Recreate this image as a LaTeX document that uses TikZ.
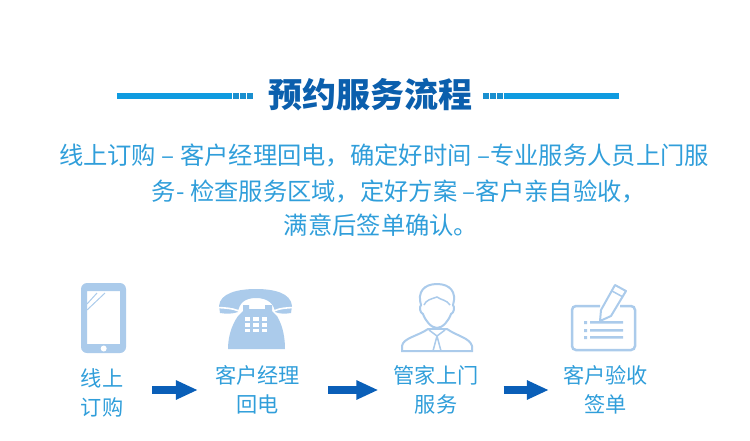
\documentclass[tikz,border=0pt]{standalone}
\usepackage{fontspec}
\setmainfont{Noto Sans CJK SC}
\usetikzlibrary{arrows.meta}
\definecolor{titleblue}{HTML}{0B5FAD}
\definecolor{arrowblue}{HTML}{0A5FB8}
\definecolor{ruleblue}{HTML}{0F9BE0}
\definecolor{squareblue}{HTML}{1A8FCF}
\definecolor{textblue}{HTML}{309EDA}
\definecolor{iconblue}{HTML}{ABCBEB}
\tikzset{
  x=1pt,y=-1pt,
  parline/.style={text=textblue,font=\fontsize{24.3}{29}\selectfont,inner sep=0pt},
  steplabel/.style={text=textblue,font=\fontsize{21.2}{29}\selectfont,align=center,inner sep=0pt},
  flowarrow/.style={draw=arrowblue,line width=8pt,-{Triangle[length=22pt,width=18pt]}},
  rulebar/.style={fill=ruleblue},
  rulesquare/.style={fill=squareblue}
}
\begin{document}
\begin{tikzpicture}
\useasboundingbox (0,0) rectangle (750,440);
% title
\node[text=titleblue,font=\fontsize{34}{40}\selectfont\bfseries,inner sep=0pt] (title) at (370.5,95) {预约服务流程};
\fill[rulebar] (117,93) rectangle (232,99);
\foreach \xa in {233,240,247}
  \fill[rulesquare] (\xa,93) rectangle +(6,6);
\foreach \xa in {483,490,497}
  \fill[rulesquare] (\xa,93) rectangle +(6,6);
\fill[rulebar] (504,93) rectangle (619,99);
% text
\node[parline] (para1) at (384,155) {线上订购 – 客户经理回电，确定好时间 –专业服务人员上门服};
\node[parline] (para2) at (399,191) {务- 检查服务区域，定好方案 –客户亲自验收，};
\node[parline] (para3) at (381,225) {满意后签单确认。};
% phone
\fill[iconblue,rounded corners=6pt,even odd rule] (81,283) rectangle (126,353) (87,291) [sharp corners] rectangle (120,344);
\fill[white] (103.7,348.5) circle (3);
\draw[iconblue,line width=1pt] (87,304) -- (97,293) (87,310) -- (105,293);
% telephone
\fill[iconblue] (219,306) .. controls (220,293) and (238,289) .. (256,289) .. controls (274,289) and (291,293) .. (292,306) -- (291,313) .. controls (285,314) and (280,314) .. (275,312) .. controls (274,304) and (268,298) .. (256,298) .. controls (244,298) and (239,304) .. (238,312) .. controls (233,314) and (226,314) .. (220,313) -- cycle;
\draw[white,line width=1.6pt] (218,307.5) .. controls (225,308) and (232,308) .. (239,311) (293,307.5) .. controls (286,308) and (280,308) .. (274,311);
\fill[iconblue] (243,305) -- (249,305) -- (249,309) -- (265,309) -- (265,305) -- (272,305) -- (272,311) -- (277,316) .. controls (283,326) and (285,338) .. (285,349) -- (228,349) .. controls (228,338) and (231,326) .. (238,316) -- (243,311) -- cycle;
\foreach \col in {0,1,2}
  \foreach \row in {0,1,2}
    \fill[white] (245+\col*8.4,317+\row*5.8) rectangle +(5.4,3.8);
% person
\draw[iconblue,line width=2pt,fill=white] (402,351) -- (402,346) .. controls (403,338) and (418,336) .. (428,329) -- (447,329) .. controls (457,336) and (470,338) .. (472,346) -- (472,351) -- cycle;
\draw[iconblue,line width=2pt,fill=white] (421,305) .. controls (417,292) and (424,284) .. (437,284) .. controls (450,284) and (457,292) .. (453,305) .. controls (455,307) and (454,313) .. (451,314) .. controls (449,320) and (443,328) .. (437,328) .. controls (431,328) and (425,320) .. (423,314) .. controls (420,313) and (419,307) .. (421,305) -- cycle;
\draw[iconblue,line width=1.5pt] (424,305) .. controls (426,300) and (431,299) .. (437,297) .. controls (441,300) and (447,300) .. (450,305);
\draw[iconblue,line width=1.5pt,fill=white] (429,330) -- (437,336) -- (445,330);
\draw[iconblue,line width=1.5pt] (437,336) -- (433,351) (437,336) -- (441,351);
% card
\draw[iconblue,line width=2.5pt,rounded corners=4pt] (620,306) -- (635,306) -- (635,350) -- (572,350) -- (572,306) -- (600,306);
\fill[iconblue] (590,321) rectangle (623,323.5) (590,329) rectangle (623,331.5) (590,336) rectangle (623,338.5);
\fill[iconblue] (584,321) rectangle (587,324) (584,329) rectangle (587,332) (584,336) rectangle (587,339);
\draw[iconblue,line width=2pt,fill=white,line join=round] (600,321) -- (601,310) -- (615,285) -- (626,291) -- (611,316) -- cycle;
\draw[iconblue,line width=1.5pt] (612,291) -- (623,297);
% steps
\node[steplabel] (stepa) at (102,393) {线上\\订购};
\node[steplabel] (stepb) at (257.5,390) {客户经理\\回电};
\node[steplabel] (stepc) at (436,390) {管家上门\\服务};
\node[steplabel] (stepd) at (605.5,390) {客户验收\\签单};
\draw[flowarrow,shorten <=29pt,shorten >=17pt] (stepa.east |- stepb.west) -- (stepb.west);
\draw[flowarrow,shorten <=28pt,shorten >=15pt] (stepb.east) -- (stepc.west);
\draw[flowarrow,shorten <=25pt,shorten >=14pt] (stepc.east) -- (stepd.west);
\end{tikzpicture}
\end{document}
